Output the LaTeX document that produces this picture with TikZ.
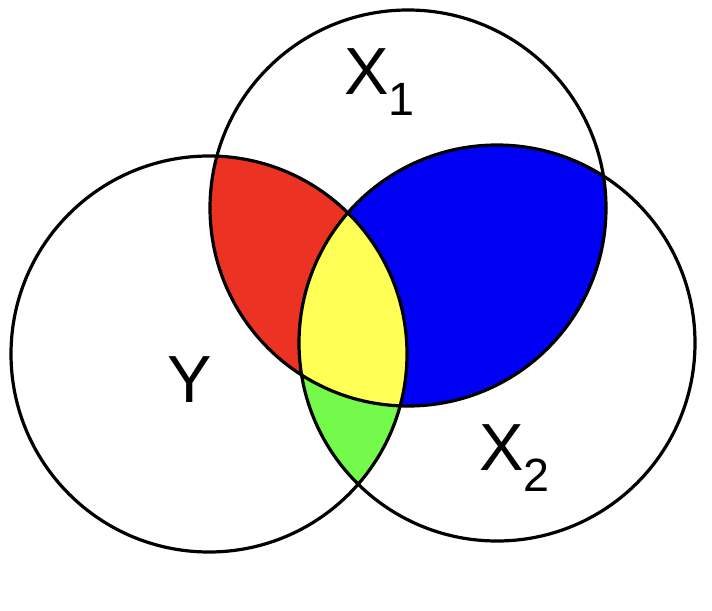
\documentclass[tikz,border=0pt]{standalone}
\usepackage{fontspec}
\setmainfont{Liberation Sans}
\tikzset{every picture/.style={line width=0.75pt}}
\tikzset{
  ring/.style={draw=black, line width=2.4pt},
  setlabel/.style={inner sep=0.75pt, font=\fontsize{50}{60}\selectfont}
}
\begin{document}
\begin{tikzpicture}[x=0.75pt,y=0.75pt,yscale=-1,xscale=1]
\useasboundingbox (0,0) rectangle (712,610);
\def\R{198}
\coordinate (cX1) at (408,208);
\coordinate (cY) at (209,354);
\coordinate (cX2) at (497,343);

%Fill: X1 and Y
\begin{scope}
\clip (cX1) circle (\R);
\fill [color={rgb, 255:red, 235; green, 50; blue, 35 }] (cY) circle (\R);
\end{scope}
%Fill: X1 and X2
\begin{scope}
\clip (cX1) circle (\R);
\fill [color={rgb, 255:red, 0; green, 0; blue, 245 }] (cX2) circle (\R);
\end{scope}
%Fill: Y and X2
\begin{scope}
\clip (cY) circle (\R);
\fill [color={rgb, 255:red, 115; green, 250; blue, 75 }] (cX2) circle (\R);
\end{scope}
%Fill: all three
\begin{scope}
\clip (cX1) circle (\R);
\clip (cY) circle (\R);
\fill [color={rgb, 255:red, 255; green, 255; blue, 85 }] (cX2) circle (\R);
\end{scope}

%Shape: Circles
\draw [ring] (cX1) circle (\R);
\draw [ring] (cY) circle (\R);
\draw [ring] (cX2) circle (\R);

% Text Node
\node (lX1) [setlabel] at (380,82) {X\textsubscript{1}};
% Text Node
\node (lY) [setlabel] at (190,380) {Y};
% Text Node
\node (lX2) [setlabel] at (515,458) {X\textsubscript{2}};
\end{tikzpicture}
\end{document}
